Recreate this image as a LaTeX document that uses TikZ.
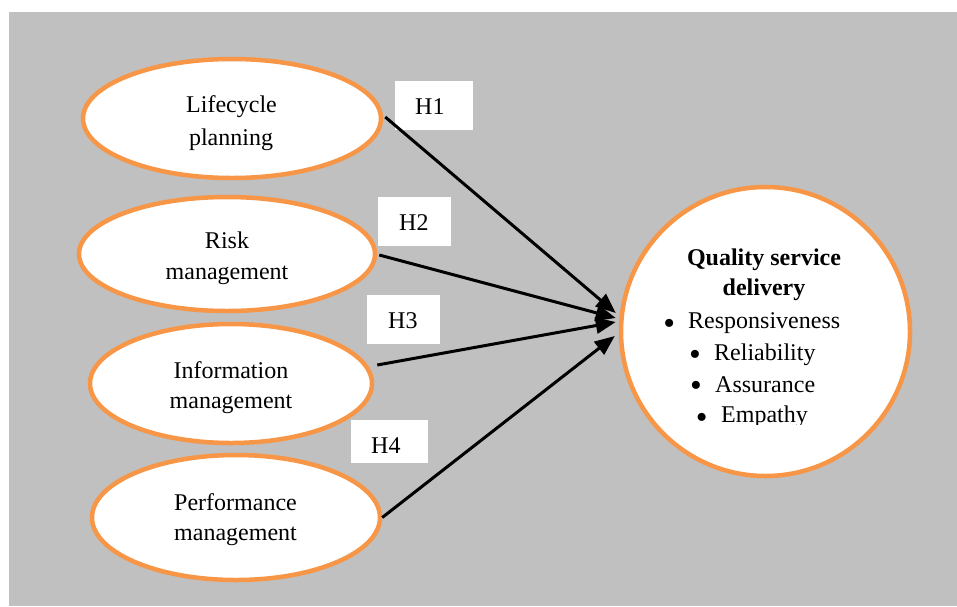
\documentclass[tikz,border=0pt]{standalone}
\usepackage{fontspec}
\setmainfont{Liberation Serif}
\usetikzlibrary{shapes.geometric,arrows.meta}
\definecolor{bggrey}{HTML}{C0C0C0}
\definecolor{accorange}{HTML}{F79646}
\begin{document}
\begin{tikzpicture}[x=1pt,y=-1pt,
  oval/.style={ellipse,draw=accorange,line width=4.5pt,fill=white,inner sep=0pt},
  txt/.style={font=\fontsize{24}{30}\selectfont,inner sep=0pt,anchor=base},
  txtl/.style={font=\fontsize{24}{30}\selectfont,inner sep=0pt,anchor=base west},
  bul/.style={font=\fontsize{24}{26}\selectfont,inner sep=0pt,anchor=base,scale=1.4,transform shape},
  hbox/.style={rectangle,fill=white,inner sep=0pt,anchor=north west},
  link/.style={line width=3pt,-{Triangle[length=20pt,width=16pt]}}]
\useasboundingbox (0,0) rectangle (957,606);
\fill[bggrey] (9,12) rectangle (957,606);

% ellipses
\node[oval,minimum width=298pt,minimum height=119pt] (e1) at (232,118.5) {};
\node[oval,minimum width=296pt,minimum height=114pt] (e2) at (227,254) {};
\node[oval,minimum width=282pt,minimum height=119pt] (e3) at (231,383.5) {};
\node[oval,minimum width=288pt,minimum height=125pt] (e4) at (236,517.5) {};
\node[circle,draw=accorange,line width=4.5pt,fill=white,inner sep=0pt,minimum size=289pt] (q) at (765.5,331.5) {};

% ellipse labels
\node[txt] (t1a) at (231.5,112) {Lifecycle};
\node[txt] (t1b) at (231,145) {planning};
\node[txt] (t2a) at (227,248) {Risk};
\node[txt] (t2b) at (227,279) {management};
\node[txt] (t3a) at (231,378) {Information};
\node[txt] (t3b) at (231,408) {management};
\node[txt] (t4a) at (235.5,510) {Performance};
\node[txt] (t4b) at (235.5,540) {management};

% circle text
\node[txt,font=\fontsize{24}{30}\selectfont\bfseries] (qa) at (764,265) {Quality service};
\node[txt,font=\fontsize{24}{30}\selectfont\bfseries] (qb) at (764,295) {delivery};
\node[bul] (b1) at (669.3,334.5) {•};
\node[txtl] (r1) at (688,328) {Responsiveness};
\node[bul] (b2) at (695,365) {•};
\node[txtl] (r2) at (714,360) {Reliability};
\node[bul] (b3) at (696,396) {•};
\node[txtl] (r3) at (715,392) {Assurance};
\begin{scope}
\clip (600,380) rectangle (900,424.5);
\node[bul] (b4) at (701.7,428.5) {•};
\node[txtl] (r4) at (721,422) {Empathy};
\end{scope}

% hypothesis boxes
\node[hbox,minimum width=78pt,minimum height=49pt] (h1) at (395,81) {};
\node[hbox,minimum width=73pt,minimum height=49pt] (h2) at (378,197) {};
\node[hbox,minimum width=73pt,minimum height=49pt] (h3) at (367,295) {};
\node[hbox,minimum width=77pt,minimum height=43pt] (h4) at (351,420) {};
\node[txtl] (l1) at (415,114) {H1};
\node[txtl] (l2) at (399,230) {H2};
\node[txtl] (l3) at (388,328) {H3};
\node[txtl] (l4) at (371,453) {H4};

% connectors
\draw[link] ([xshift=2pt,yshift=1.5pt]e1.east) -- ([xshift=-3pt,yshift=18.5pt]q.west);
\draw[link] ([xshift=2pt,yshift=-1pt]e2.east) -- ([xshift=-3pt,yshift=13.5pt]q.west);
\draw[link] ([xshift=3pt,yshift=18.5pt]e3.east) -- ([xshift=-3pt,yshift=9.5pt]q.west);
\draw[link] (e4.east) -- ([xshift=-4pt,yshift=-4.5pt]q.west);
\end{tikzpicture}
\end{document}
